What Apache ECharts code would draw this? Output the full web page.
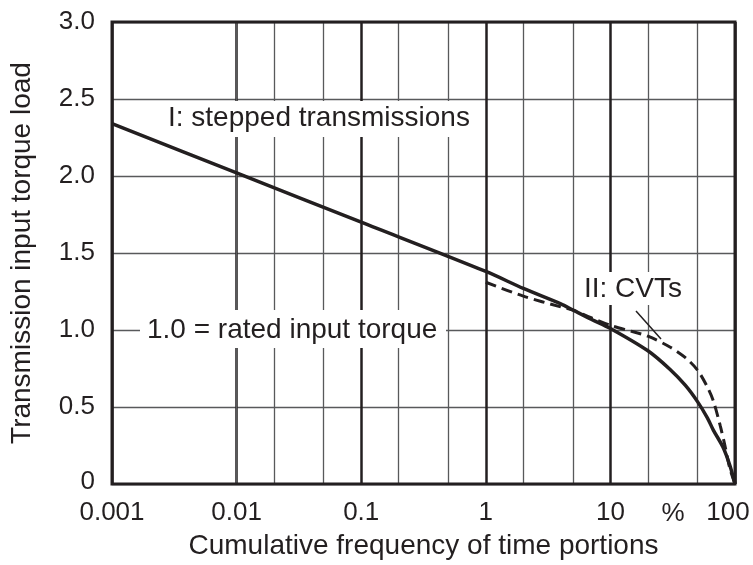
<!DOCTYPE html>
<html>
<head>
<meta charset="utf-8">
<script src="https://cdn.jsdelivr.net/npm/echarts@6/dist/echarts.min.js"></script>
<style>
html,body{margin:0;padding:0;background:#fff;}
#c{width:753px;height:565px;}
</style>
</head>
<body>
<div id="c"></div>
<script>
// ---- data ----
const xTickLabels = ['0.001', '0.01', '0.1', '1', '10', '100'];
const yTickLabels = ['0', '0.5', '1.0', '1.5', '2.0', '2.5', '3.0'];
const minorGridX = [0.002, 0.005, 0.02, 0.05, 0.2, 0.5, 2, 5, 20, 50];

const steppedX = [0.001, 0.01, 0.1, 1, 2, 4, 5, 7, 10, 20, 30, 40, 50, 60, 67, 80, 91, 100];
const steppedY = [2.34, 2.02, 1.70, 1.38, 1.27, 1.17, 1.13, 1.07, 1.01, 0.865, 0.745, 0.64, 0.535, 0.43, 0.35, 0.24, 0.12, 0];

const cvtX = [1, 2, 4, 5, 7, 10, 15, 20, 30, 40, 50, 60, 67, 76, 83, 91, 100];
const cvtY = [1.31, 1.22, 1.15, 1.13, 1.08, 1.03, 0.99, 0.96, 0.89, 0.82, 0.74, 0.63, 0.54, 0.38, 0.25, 0.10, 0];

const labelStepped = 'I: stepped transmissions';
const labelRated = '1.0 = rated input torque';
const labelCVT = 'II: CVTs';
const xUnit = '%';
const xTitle = 'Cumulative frequency of time portions';
const yTitle = 'Transmission input torque load';

// ---- chart ----
const FONT = 'Liberation Sans, Arial, Helvetica, sans-serif';
const TXT = '#231f20';
const GRID = '#58595b';
const chart = echarts.init(document.getElementById('c'), null, {renderer: 'canvas'});

const zip = (xs, ys) => xs.map((x, i) => [x, ys[i]]);

chart.setOption({
  animation: false,
  backgroundColor: '#fff',
  grid: {left: 112, right: 18, top: 22, bottom: 76, show: true, borderColor: '#231f20', borderWidth: 3, backgroundColor: 'transparent', z: 10},
  xAxis: {
    type: 'log', logBase: 10, min: 0.001, max: 100,
    name: xTitle, nameLocation: 'middle', nameGap: 48,
    nameTextStyle: {fontFamily: FONT, fontSize: 28, color: TXT},
    axisLine: {show: false},
    axisTick: {show: false},
    axisLabel: {
      fontFamily: FONT, fontSize: 26, color: TXT, margin: 16,
      formatter: (v, i) => i === xTickLabels.length - 1 ? '{r|' + xTickLabels[i] + '}' : xTickLabels[i],
      rich: {r: {fontFamily: FONT, fontSize: 26, color: TXT, padding: [0, 14, 0, 0]}}
    },
    splitLine: {show: true, lineStyle: {color: '#231f20', width: 2.5}}
  },
  yAxis: {
    type: 'value', min: 0, max: 3, interval: 0.5,
    name: yTitle, nameLocation: 'middle', nameGap: 76, nameRotate: 90,
    nameTextStyle: {fontFamily: FONT, fontSize: 28, color: TXT},
    axisLine: {show: false},
    axisTick: {show: false},
    axisLabel: {
      fontFamily: FONT, fontSize: 26, color: TXT, margin: 17,
      formatter: (v, i) => i === 0 ? '{z|' + yTickLabels[i] + '}' : yTickLabels[i],
      rich: {z: {fontFamily: FONT, fontSize: 26, color: TXT, padding: [0, 0, 4, 0]}}
    },
    splitLine: {show: true, lineStyle: {color: GRID, width: 1.4}}
  },
  series: [
    {
      type: 'line', name: 'minor', data: [], silent: true, z: 1,
      markLine: {
        silent: true, symbol: ['none', 'none'], label: {show: false},
        lineStyle: {color: GRID, width: 1.3, type: 'solid'},
        data: minorGridX.map(v => ({xAxis: v}))
      }
    },
    {
      type: 'line', name: 'I', data: zip(steppedX, steppedY),
      showSymbol: false, smooth: 0.3, z: 20,
      lineStyle: {color: '#231f20', width: 3.5}
    },
    {
      type: 'line', name: 'II', data: zip(cvtX, cvtY),
      showSymbol: false, smooth: 0.3, z: 20,
      lineStyle: {color: '#231f20', width: 3, type: [11, 6]}
    }
  ],
  graphic: [
    {type: 'rect', z: 15, shape: {x: 140, y: 101, width: 342, height: 36}, style: {fill: '#fff'}},
    {type: 'text', z: 51, x: 168, y: 118, style: {text: labelStepped, fontFamily: FONT, fontSize: 28, fill: TXT, align: 'left', verticalAlign: 'middle'}},
    {type: 'rect', z: 15, shape: {x: 140, y: 310, width: 306, height: 38}, style: {fill: '#fff'}},
    {type: 'text', z: 51, x: 147, y: 330, style: {text: labelRated, fontFamily: FONT, fontSize: 28, fill: TXT, align: 'left', verticalAlign: 'middle'}},
    {type: 'rect', z: 15, shape: {x: 579, y: 272, width: 110, height: 33}, style: {fill: '#fff'}},
    {type: 'text', z: 51, x: 584, y: 289, style: {text: labelCVT, fontFamily: FONT, fontSize: 28, fill: TXT, align: 'left', verticalAlign: 'middle'}},
    {type: 'line', z: 51, shape: {x1: 636, y1: 311, x2: 661, y2: 339}, style: {stroke: '#231f20', lineWidth: 1.5}},
    {type: 'text', z: 51, x: 673, y: 514, style: {text: xUnit, fontFamily: FONT, fontSize: 26, fill: TXT, align: 'center', verticalAlign: 'middle'}}
  ]
});
</script>
</body>
</html>
